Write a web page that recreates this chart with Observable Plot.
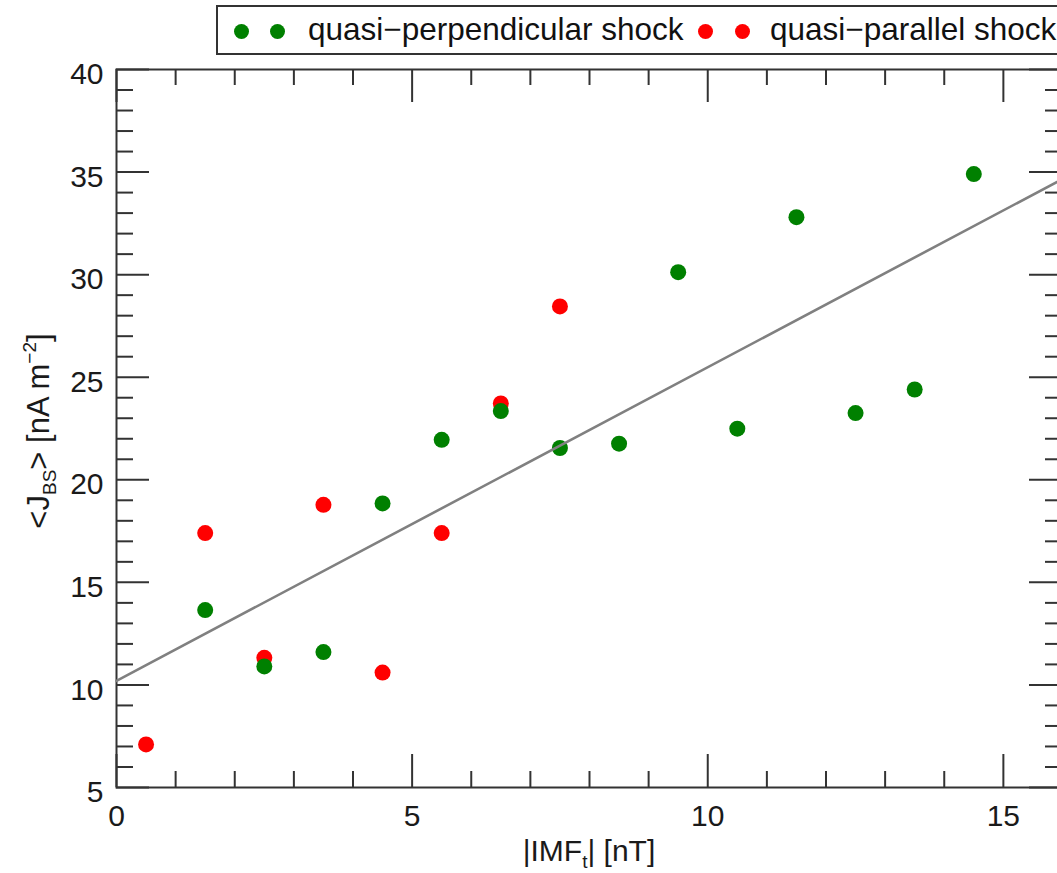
<!DOCTYPE html>
<html>
<head>
<meta charset="utf-8">
<script src="https://cdn.jsdelivr.net/npm/d3@7"></script>
<script src="https://cdn.jsdelivr.net/npm/@observablehq/plot@0.6"></script>
<style>
  html, body { margin: 0; padding: 0; background: #fff; overflow: hidden; }
  #wrap { position: relative; width: 1057px; height: 873px; font-family: "Liberation Sans", Arial, sans-serif; }
  #legend { position: absolute; left: 216px; top: 5px; width: 900px; height: 46px; border: 2px solid #333; background: #fff;
            font-size: 31.5px; color: #111; white-space: nowrap; z-index: 2; }
  .dot { position: absolute; top: 17px; width: 15px; height: 15px; border-radius: 50%; }
  .lbl { position: absolute; top: 4px; line-height: 36px; }
</style>
</head>
<body>
<div id="wrap">
  <div id="legend">
    <span class="dot" style="background:#008000;left:16px"></span>
    <span class="dot" style="background:#008000;left:52px"></span>
    <span class="lbl" style="left:90px">quasi−perpendicular shock</span>
    <span class="dot" style="background:#ff0000;left:480px"></span>
    <span class="dot" style="background:#ff0000;left:517px"></span>
    <span class="lbl" style="left:552px">quasi−parallel shock</span>
  </div>
  <div id="chart"></div>
</div>
<script>
// Data
const perpX = [1.5, 2.5, 3.5, 4.5, 5.5, 6.5, 7.5, 8.5, 9.5, 10.5, 11.5, 12.5, 13.5, 14.5];
const perpY = [13.65, 10.9, 11.6, 18.85, 21.95, 23.35, 21.55, 21.76, 30.12, 22.49, 32.8, 23.25, 24.4, 34.9];
const paraX = [0.5, 1.5, 2.5, 3.5, 4.5, 5.5, 6.5, 7.5];
const paraY = [7.1, 17.4, 11.32, 18.78, 10.6, 17.4, 23.72, 28.45];
const fitX = [0, 16];
const fitY = [10.2, 34.66];
const xMajor = [0, 5, 10, 15];
const xMinor = [1, 2, 3, 4, 6, 7, 8, 9, 11, 12, 13, 14];
const yMajor = [5, 10, 15, 20, 25, 30, 35, 40];
const yMinor = [6,7,8,9,11,12,13,14,16,17,18,19,21,22,23,24,26,27,28,29,31,32,33,34,36,37,38,39];

const perp = perpX.map((x, i) => ({x, y: perpY[i]}));
const para = paraX.map((x, i) => ({x, y: paraY[i]}));
const fit = fitX.map((x, i) => ({x, y: fitY[i]}));

const W = 1057, H = 873, mL = 116, mR = -5, mT = 69, mB = 86;
const pw = W - mL - mR, ph = H - mT - mB;
const axisColor = "#333";
const ff = "'Liberation Sans', Arial, sans-serif";

const chart = Plot.plot({
  width: W, height: H,
  marginLeft: mL, marginRight: mR, marginTop: mT, marginBottom: mB,
  style: {fontFamily: ff, fontSize: "30px", color: "#1a1a1a", background: "#fff", overflow: "visible"},
  x: {domain: [0, 16]},
  y: {domain: [5, 40]},
  marks: [
    // inward ticks on four sides
    Plot.tickY(yMajor, {y: d => d, insetRight: pw - 33, stroke: axisColor, strokeWidth: 2}),
    Plot.tickY(yMinor, {y: d => d, insetRight: pw - 17, stroke: axisColor, strokeWidth: 2}),
    Plot.tickY(yMajor, {y: d => d, insetLeft: pw - 33, stroke: axisColor, strokeWidth: 2}),
    Plot.tickY(yMinor, {y: d => d, insetLeft: pw - 17, stroke: axisColor, strokeWidth: 2}),
    Plot.tickX(xMajor, {x: d => d, insetTop: ph - 33, stroke: axisColor, strokeWidth: 2}),
    Plot.tickX(xMinor, {x: d => d, insetTop: ph - 16, stroke: axisColor, strokeWidth: 2}),
    Plot.tickX(xMajor, {x: d => d, insetBottom: ph - 33, stroke: axisColor, strokeWidth: 2}),
    Plot.tickX(xMinor, {x: d => d, insetBottom: ph - 16, stroke: axisColor, strokeWidth: 2}),
    Plot.axisX({ticks: xMajor, tickSize: 0, tickPadding: 17, label: null, fontSize: 30, fill: "#1a1a1a"}),
    Plot.axisY({ticks: yMajor, tickSize: 0, tickPadding: 13, dy: 5, label: null, fontSize: 30, fill: "#1a1a1a"}),
    Plot.frame({stroke: axisColor, strokeWidth: 2}),
    Plot.dot(para, {x: "x", y: "y", r: 8, fill: "#ff0000", stroke: null}),
    Plot.dot(perp, {x: "x", y: "y", r: 8, fill: "#008000", stroke: null}),
    Plot.line(fit, {x: "x", y: "y", stroke: "#808080", strokeWidth: 2.6})
  ]
});

const svg = d3.select(chart);
// x-axis title with subscript
const xt = svg.append("text")
  .attr("x", mL + pw / 2).attr("y", 861)
  .attr("text-anchor", "middle")
  .attr("font-size", 30).attr("fill", "#1a1a1a")
  .attr("font-family", ff);
xt.append("tspan").text("|IMF");
xt.append("tspan").attr("font-size", 19).attr("dy", 7).text("t");
xt.append("tspan").attr("dy", -7).text("| [nT]");

// y-axis title with subscript and superscript
const yt = svg.append("text")
  .attr("transform", `translate(49,${mT + ph / 2 + 3}) rotate(-90)`)
  .attr("text-anchor", "middle")
  .attr("font-size", 31).attr("fill", "#1a1a1a")
  .attr("font-family", ff);
yt.append("tspan").text("<J");
yt.append("tspan").attr("font-size", 19).attr("dy", 7).text("BS");
yt.append("tspan").attr("dy", -7).text("> [nA m");
yt.append("tspan").attr("font-size", 19).attr("dy", -13).text("−2");
yt.append("tspan").attr("dy", 13).text("]");

document.getElementById("chart").appendChild(chart);
</script>
</body>
</html>
